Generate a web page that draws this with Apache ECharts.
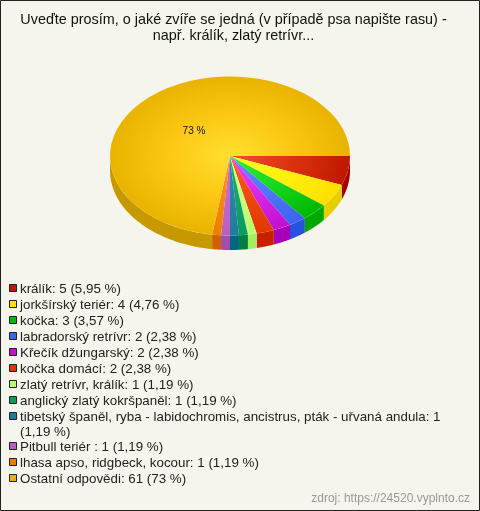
<!DOCTYPE html>
<html><head><meta charset="utf-8">
<style>html,body{margin:0;padding:0;background:#f5f5ed}#c{width:480px;height:511px}</style>
<script src="https://cdn.jsdelivr.net/npm/echarts@6/dist/echarts.min.js"></script>
</head><body><div id="c"></div>
<script>
const titleLines = ['Uveďte prosím, o jaké zvíře se jedná (v případě psa napište rasu) -', 'např. králík, zlatý retrívr...'];
const categories = ['králík','jorkšírský teriér','kočka','labradorský retrívr','Křečík džungarský','kočka domácí','zlatý retrívr, králík','anglický zlatý kokršpaněl','tibetský španěl, ryba - labidochromis, ancistrus, pták - uřvaná andula','Pitbull teriér ','lhasa apso, ridgbeck, kocour','Ostatní odpovědi'];
const values = [5,4,3,2,2,2,1,1,1,1,1,61];
const percents = ['5,95 %','4,76 %','3,57 %','2,38 %','2,38 %','2,38 %','1,19 %','1,19 %','1,19 %','1,19 %','1,19 %','73 %'];
const innerColors = ['#f05030','#ffff20','#30f030','#6090ff','#f040ff','#ff6020','#d8ff90','#20b070','#3090b0','#d070d8','#ff9820','#ffe030'];
const midColors = ['#dc3410','#fff010','#18d820','#5078f8','#d828e8','#f04a10','#c8ff80','#14a468','#2884a4','#c468cc','#f68a10','#fcc814'];
const outerColors = ['#c01800','#ffe000','#00b800','#3c64f0','#c010d0','#e03800','#b8ff70','#0a9a60','#1f7c9c','#b860c0','#ee7d00','#e8b400'];
const wallColors = ['#a80000','#e6cf00','#00a800','#2a50e0','#a800b8','#c82000','#a0f060','#008040','#006880','#a050a8','#d06000','#c89800'];
const swatchColors = ['#c01800','#ffe000','#00b800','#3c64f0','#c010d0','#e03800','#b8ff70','#0a9a60','#1f7c9c','#b860c0','#ee7d00','#e8b400'];

const cx = 230, cy = 156, rx = 120, ry = 79.5, depth = 14.5;
const total = values.reduce((a, b) => a + b, 0);
const font = 'Liberation Sans, Arial, sans-serif';

function renderSlice(params, api) {
  const i = params.dataIndex;
  let before = 0;
  for (let k = 0; k < i; k++) before += values[k];
  const a0 = before / total * Math.PI * 2;
  const a1 = (before + values[i]) / total * Math.PI * 2;
  return {
    type: 'sector',
    x: cx, y: cy, scaleY: ry / rx,
    shape: { cx: 0, cy: 0, r0: 0, r: rx, startAngle: a0, endAngle: a1, clockwise: true },
    style: { fill: { type: 'radial', x: 0, y: 0, r: rx, global: true,
      colorStops: [{ offset: 0, color: innerColors[i] }, { offset: 0.5, color: midColors[i] }, { offset: 1, color: outerColors[i] }] } },
    silent: true
  };
}
function renderWall(params, api) {
  const i = params.dataIndex;
  let before = 0;
  for (let k = 0; k < i; k++) before += values[k];
  const a0 = before / total * Math.PI * 2;
  const a1 = Math.min((before + values[i]) / total * Math.PI * 2, Math.PI);
  if (a0 >= Math.PI) return null;
  const top = [], bottom = [];
  const n = 40;
  for (let s = 0; s <= n; s++) {
    const a = a0 + (a1 - a0) * s / n;
    const x = cx + rx * Math.cos(a), y = cy + ry * Math.sin(a);
    top.push([x, y]); bottom.unshift([x, y + depth]);
  }
  return { type: 'polygon', shape: { points: top.concat(bottom) }, style: { fill: wallColors[i] }, silent: true };
}

const graphic = [
  { type: 'rect', shape: { x: 0.5, y: 0.5, width: 479, height: 510 }, style: { fill: 'none', stroke: '#222', lineWidth: 1 }, silent: true },
  { type: 'text', x: 233.5, y: 20, style: { text: titleLines[0], font: '14.4px ' + font, fill: '#111', align: 'center', verticalAlign: 'middle' } },
  { type: 'text', x: 233.5, y: 36, style: { text: titleLines[1], font: '14.4px ' + font, fill: '#111', align: 'center', verticalAlign: 'middle' } },
  { type: 'text', x: 194, y: 131, z: 10, style: { text: percents[11], font: '10px ' + font, fill: '#111', align: 'center', verticalAlign: 'middle' } },
  { type: 'text', x: 470, y: 499, style: { text: 'zdroj: https://24520.vyplnto.cz', font: '12px ' + font, fill: '#999', align: 'right', verticalAlign: 'middle' } }
];
let rowY = 289;
categories.forEach((name, i) => {
  graphic.push({ type: 'rect', shape: { x: 9.5, y: rowY - 4.5, width: 7, height: 7 }, style: { fill: swatchColors[i], stroke: '#222', lineWidth: 1 }, silent: true });
  const full = name + ': ' + values[i] + ' (' + percents[i] + ')';
  if (i === 8) {
    graphic.push({ type: 'text', x: 20, y: rowY, style: { text: name + ': ' + values[i], font: '13.35px ' + font, fill: '#222', verticalAlign: 'middle' } });
    graphic.push({ type: 'text', x: 20, y: rowY + 15, style: { text: '(' + percents[i] + ')', font: '13.35px ' + font, fill: '#222', verticalAlign: 'middle' } });
    rowY += 30;
  } else {
    graphic.push({ type: 'text', x: 20, y: rowY, style: { text: full, font: '13.35px ' + font, fill: '#222', verticalAlign: 'middle' } });
    rowY += 16;
  }
});

const chart = echarts.init(document.getElementById('c'), null, { renderer: 'canvas' });
chart.setOption({
  animation: false,
  backgroundColor: '#f5f5ed',
  tooltip: { show: false },
  graphic: graphic,
  series: [
    { type: 'custom', coordinateSystem: 'none', z: 1, data: values, renderItem: renderWall, clip: false },
    { type: 'custom', coordinateSystem: 'none', z: 2, data: values, renderItem: renderSlice, clip: false }
  ]
});
</script></body></html>
